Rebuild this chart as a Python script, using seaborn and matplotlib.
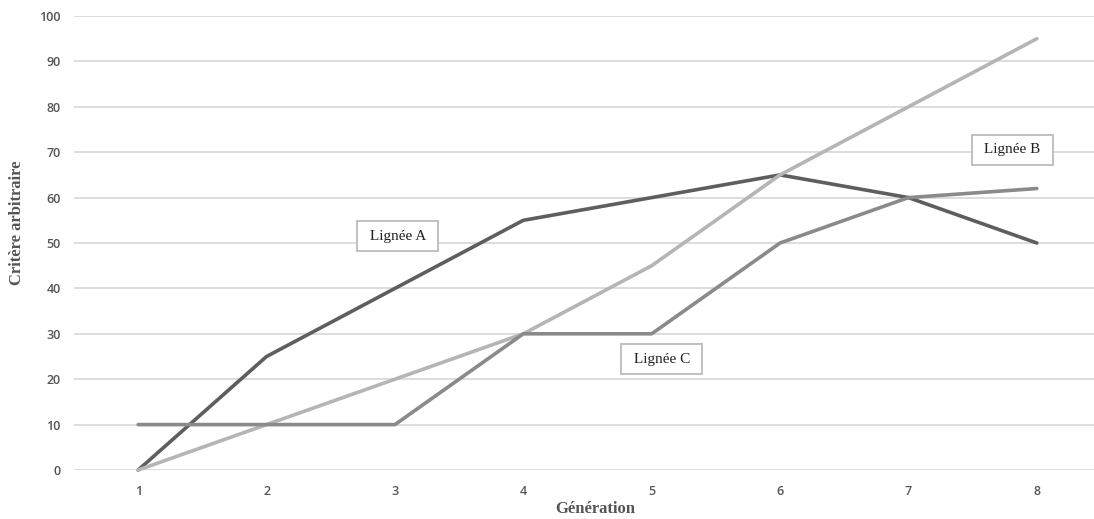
import matplotlib
matplotlib.use("Agg")
import matplotlib.pyplot as plt
import seaborn as sns
import pandas as pd

generations = [1, 2, 3, 4, 5, 6, 7, 8]
lignee_a = [0, 25, 40, 55, 60, 65, 60, 50]
lignee_b = [0, 10, 20, 30, 45, 65, 80, 95]
lignee_c = [10, 10, 10, 30, 30, 50, 60, 62]
y_ticks = [0, 10, 20, 30, 40, 50, 60, 70, 80, 90, 100]

df = pd.DataFrame({
    "Génération": generations * 3,
    "Critère": lignee_a + lignee_b + lignee_c,
    "Lignée": ["Lignée A"] * 8 + ["Lignée B"] * 8 + ["Lignée C"] * 8,
})

sns.set_theme(style="white")
fig = plt.figure(figsize=(10.94, 5.19), dpi=100)
# axes runs a bit past the right edge of the figure, like the original
ax = fig.add_axes([74 / 1094, 49 / 519, 1027 / 1094, 454 / 519])

palette = {"Lignée A": "#5e5e5e", "Lignée B": "#b5b5b5", "Lignée C": "#8a8a8a"}
sns.lineplot(data=df, x="Génération", y="Critère", hue="Lignée", palette=palette,
             linewidth=2.6, legend=False, ax=ax, clip_on=False, zorder=3)

ax.set_xlim(0.5, 8.5)
ax.set_ylim(0, 100)
ax.set_xticks(generations)
ax.set_yticks(y_ticks)
ax.grid(axis="y", color="#dadada", linewidth=1.3)
ax.set_axisbelow(True)
for s in ax.spines.values():
    s.set_visible(False)
ax.tick_params(axis="both", length=0, labelsize=9, labelcolor="#555555")
ax.tick_params(axis="x", pad=10.5)
ax.tick_params(axis="y", pad=9.5)
for lab in ax.get_xticklabels() + ax.get_yticklabels():
    lab.set_family("Open Sans")
    lab.set_fontweight("semibold")

ax.set_xlabel("Génération", family="Liberation Serif", fontweight="bold",
              fontsize=12, color="#555555")
ax.set_ylabel("Critère arbitraire", family="Liberation Serif", fontweight="bold",
              fontsize=12, color="#555555")
ax.xaxis.set_label_coords(0.508, -0.068)
ax.yaxis.set_label_coords(-0.048, 0.544)

box = dict(boxstyle="square,pad=0.55", facecolor="white", edgecolor="#c0c0c0", linewidth=1.4)
labels = [("Lignée A", 3.02, 51.5), ("Lignée C", 5.08, 24.4), ("Lignée B", 7.81, 70.5)]
for txt, x, y in labels:
    ax.text(x, y, " " + txt + " ", ha="center", va="center", fontsize=11,
            family="Liberation Serif", color="#222222", bbox=box, zorder=4)

fig.savefig("out.png", dpi=100)
